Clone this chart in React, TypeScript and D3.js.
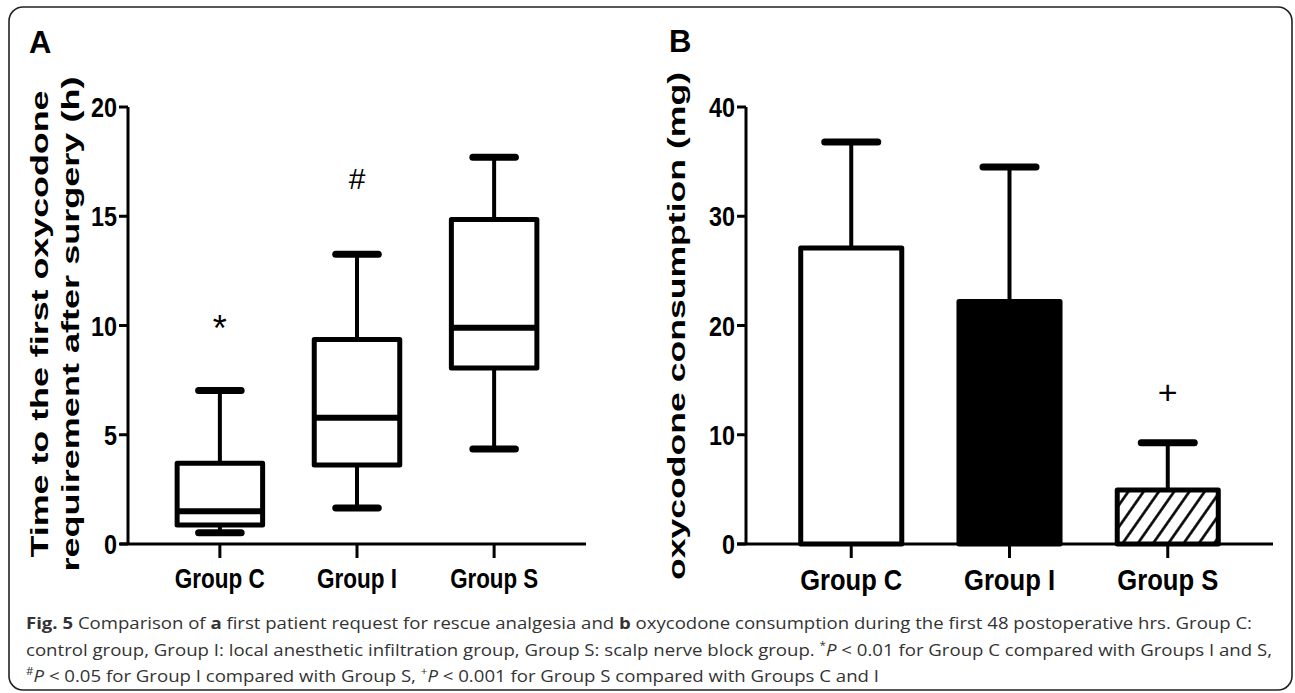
import React from "react";
import * as d3 from "d3";

// panel A: box plot, time to first oxycodone request (h)
const GROUPS = ["Group C", "Group I", "Group S"];
const BOX_MIN = [0.52, 1.65, 4.35];
const BOX_Q1 = [0.87, 3.62, 8.05];
const BOX_MED = [1.5, 5.78, 9.9];
const BOX_Q3 = [3.7, 9.36, 14.85];
const BOX_MAX = [7.03, 13.26, 17.7];
const BOX_MARKS = ["*", "#", ""];
const BOX_MARK_AT = [9.9, 16.7, 0];
const A_TICKS = [0, 5, 10, 15, 20];

// panel B: mean + SD bars, oxycodone consumption (mg)
const BAR_MEAN = [27.1, 22.2, 4.95];
const BAR_UPPER = [36.8, 34.5, 9.27];
const BAR_MARKS = ["", "", "+"];
const BAR_MARK_AT = [0, 0, 13.8];
const B_TICKS = [0, 10, 20, 30, 40];

const BOLD = "'Liberation Sans', Arial, sans-serif";
const CAP = "'Open Sans', 'Noto Sans', sans-serif";

function YAxis({ y, x0, ticks }: { y: d3.ScaleLinear<number, number>; x0: number; ticks: number[] }) {
  const [lo, hi] = y.domain();
  return (
    <g>
      <line x1={x0} x2={x0} y1={y(lo)} y2={y(hi)} stroke="#000" strokeWidth={3} />
      {ticks.map((t) => (
        <g key={t}>
          <line x1={x0 - 9} x2={x0} y1={y(t)} y2={y(t)} stroke="#000" strokeWidth={3} />
          <text
            x={x0 - 11}
            y={y(t) + 10}
            textAnchor="end"
            fontFamily={BOLD}
            fontWeight="bold"
            fontSize={28}
            textLength={13 * String(t).length}
            lengthAdjust="spacingAndGlyphs"
          >
            {t}
          </text>
        </g>
      ))}
    </g>
  );
}

function XAxis({ x, y0, x0, x1, fs, widths, base }: any) {
  return (
    <g>
      <line x1={x0} x2={x1} y1={y0} y2={y0} stroke="#000" strokeWidth={3} />
      {GROUPS.map((g, i) => {
        const cx = x(g) + x.bandwidth() / 2;
        return (
          <g key={g}>
            <line x1={cx} x2={cx} y1={y0} y2={y0 + 14} stroke="#000" strokeWidth={3} />
            <text
              x={cx}
              y={base}
              textAnchor="middle"
              fontFamily={BOLD}
              fontWeight="bold"
              fontSize={fs}
              textLength={widths[i]}
              lengthAdjust="spacingAndGlyphs"
            >
              {g}
            </text>
          </g>
        );
      })}
    </g>
  );
}

function PanelA() {
  const y = d3.scaleLinear().domain([0, 20]).range([544, 107]);
  const x = d3.scaleBand().domain(GROUPS).range([128, 586]).padding(0.34);
  const bw = x.bandwidth();
  return (
    <g>
      <text x={29} y={53} fontFamily={BOLD} fontWeight="bold" fontSize={31}>A</text>
      <text
        transform="translate(48,324) rotate(-90)"
        textAnchor="middle"
        fontFamily={BOLD}
        fontWeight="bold"
        fontSize={24}
        textLength={467}
        lengthAdjust="spacingAndGlyphs"
      >
        Time to the first oxycodone
      </text>
      <text
        transform="translate(79,324) rotate(-90)"
        textAnchor="middle"
        fontFamily={BOLD}
        fontWeight="bold"
        fontSize={24}
        textLength={495}
        lengthAdjust="spacingAndGlyphs"
      >
        requirement after surgery (h)
      </text>
      {GROUPS.map((g, i) => {
        const x0 = x(g)! + 2.5;
        const x1 = x(g)! + bw - 2.5;
        const cx = x(g)! + bw / 2;
        const cw = bw * 0.47;
        return (
          <g key={g} stroke="#000" fill="none">
            <line x1={cx} x2={cx} y1={y(BOX_Q3[i])} y2={y(BOX_MAX[i])} strokeWidth={4} />
            <line x1={cx} x2={cx} y1={y(BOX_Q1[i])} y2={y(BOX_MIN[i])} strokeWidth={4} />
            <line x1={cx - cw / 2} x2={cx + cw / 2} y1={y(BOX_MAX[i])} y2={y(BOX_MAX[i])} strokeWidth={7} strokeLinecap="round" />
            <line x1={cx - cw / 2} x2={cx + cw / 2} y1={y(BOX_MIN[i])} y2={y(BOX_MIN[i])} strokeWidth={7} strokeLinecap="round" />
            <rect
              x={x0}
              y={y(BOX_Q3[i])}
              width={x1 - x0}
              height={y(BOX_Q1[i]) - y(BOX_Q3[i])}
              fill="#fff"
              strokeWidth={5}
              strokeLinejoin="round"
            />
            <line x1={x0} x2={x1} y1={y(BOX_MED[i])} y2={y(BOX_MED[i])} strokeWidth={6} />
            {BOX_MARKS[i] && (
              <text
                x={cx}
                y={y(BOX_MARK_AT[i])}
                dy={BOX_MARKS[i] === "*" ? 13 : 10}
                textAnchor="middle"
                stroke="none"
                fill="#000"
                fontFamily={BOLD}
                fontSize={BOX_MARKS[i] === "*" ? 36 : 30}
              >
                {BOX_MARKS[i]}
              </text>
            )}
          </g>
        );
      })}
      <YAxis y={y} x0={128} ticks={A_TICKS} />
      <XAxis x={x} y0={544} x0={120} x1={586} fs={28} widths={[90, 80, 88]} base={588} />
    </g>
  );
}

function PanelB() {
  const y = d3.scaleLinear().domain([0, 40]).range([544, 107]);
  const x = d3.scaleBand().domain(GROUPS).range([746, 1273]).padding(0.33);
  const bw = x.bandwidth();
  const fills = ["#fff", "#000", "url(#hatch)"];
  return (
    <g>
      <defs>
        <pattern id="hatch" patternUnits="userSpaceOnUse" width={12.5} height={12.5} patternTransform="rotate(35)">
          <rect width={12.5} height={12.5} fill="#fff" />
          <line x1={6.25} x2={6.25} y1={0} y2={12.5} stroke="#000" strokeWidth={2.6} />
        </pattern>
      </defs>
      <text x={669} y={52} fontFamily={BOLD} fontWeight="bold" fontSize={31}>B</text>
      <text
        transform="translate(685,326) rotate(-90)"
        textAnchor="middle"
        fontFamily={BOLD}
        fontWeight="bold"
        fontSize={24}
        textLength={508}
        lengthAdjust="spacingAndGlyphs"
      >
        oxycodone consumption (mg)
      </text>
      {GROUPS.map((g, i) => {
        const cx = x(g)! + bw / 2;
        const cw = bw * 0.5;
        return (
          <g key={g} stroke="#000">
            <line x1={cx} x2={cx} y1={y(BAR_MEAN[i])} y2={y(BAR_UPPER[i])} strokeWidth={4} />
            <line x1={cx - cw / 2} x2={cx + cw / 2} y1={y(BAR_UPPER[i])} y2={y(BAR_UPPER[i])} strokeWidth={7} strokeLinecap="round" />
            <rect
              x={x(g)! + 2.5}
              y={y(BAR_MEAN[i])}
              width={bw - 5}
              height={y(0) - y(BAR_MEAN[i])}
              fill={fills[i]}
              strokeWidth={5}
              strokeLinejoin="round"
            />
            {BAR_MARKS[i] && (
              <text
                x={cx}
                y={y(BAR_MARK_AT[i])}
                dy={11}
                textAnchor="middle"
                stroke="none"
                fill="#000"
                fontFamily={BOLD}
                fontSize={34}
              >
                {BAR_MARKS[i]}
              </text>
            )}
          </g>
        );
      })}
      <YAxis y={y} x0={746} ticks={B_TICKS} />
      <XAxis x={x} y0={544} x0={737} x1={1273} fs={30} widths={[102, 91, 101]} base={590} />
    </g>
  );
}

function Caption() {
  const sup = { baselineShift: "super", fontSize: 10 } as React.CSSProperties;
  return (
    <g fontFamily={CAP} fontSize={16} fill="#333">
      <text x={26} y={629} textLength={1226} lengthAdjust="spacingAndGlyphs">
        <tspan fontWeight="bold">Fig. 5</tspan> Comparison of <tspan fontWeight="bold">a</tspan> first patient request
        for rescue analgesia and <tspan fontWeight="bold">b</tspan> oxycodone consumption during the first 48
        postoperative hrs. Group C:
      </text>
      <text x={26} y={656} textLength={1246} lengthAdjust="spacingAndGlyphs">
        control group, Group I: local anesthetic infiltration group, Group S: scalp nerve block group.{" "}
        <tspan style={sup}>*</tspan>
        <tspan fontStyle="italic">P</tspan> &lt; 0.01 for Group C compared with Groups I and S,
      </text>
      <text x={26} y={682} textLength={853} lengthAdjust="spacingAndGlyphs">
        <tspan style={sup}>#</tspan>
        <tspan fontStyle="italic">P</tspan> &lt; 0.05 for Group I compared with Group S,{" "}
        <tspan style={sup}>+</tspan>
        <tspan fontStyle="italic">P</tspan> &lt; 0.001 for Group S compared with Groups C and I
      </text>
    </g>
  );
}

export default function App() {
  return (
    <div style={{ position: "absolute", left: 0, top: 0 }}>
      <svg width={1295} height={693} style={{ display: "block", background: "#fff" }}>
        <rect x={9} y={7} width={1283} height={683} rx={14} fill="#fff" stroke="#222" strokeWidth={1.6} />
        <PanelA />
        <PanelB />
        <Caption />
      </svg>
    </div>
  );
}
